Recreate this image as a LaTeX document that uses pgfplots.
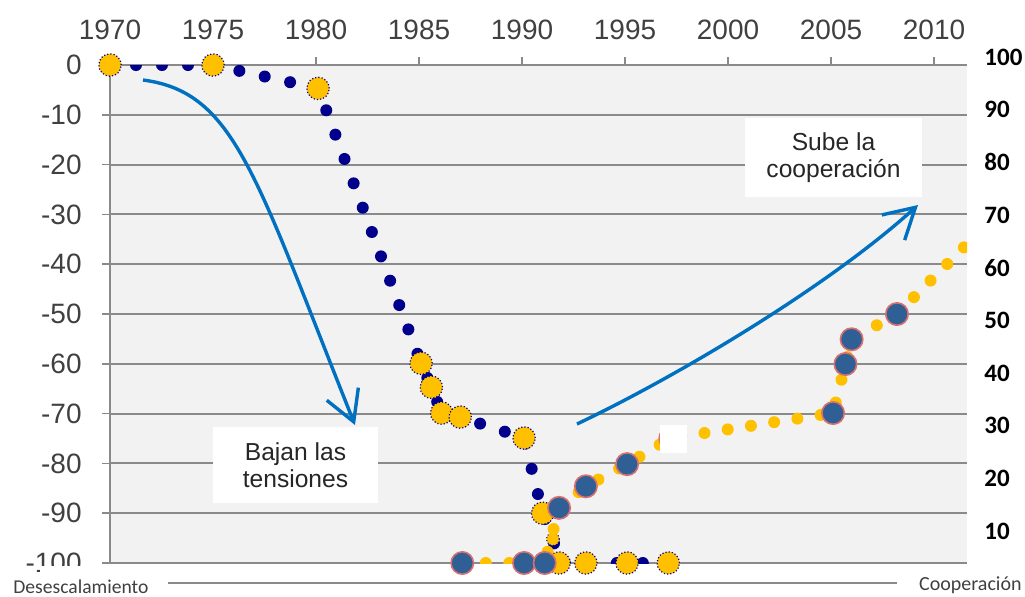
\documentclass[border=0pt]{standalone}
\usepackage{pgfplots}
\pgfplotsset{compat=1.18}
\usepackage{pgfplotstable}
\usepackage{fontspec}
\setmainfont{Liberation Sans}
\newfontfamily\carlito{Carlito}
\usetikzlibrary{arrows.meta}
\definecolor{bg}{HTML}{F2F2F2}
\definecolor{gridc}{HTML}{8A8A8A}
\definecolor{lab}{HTML}{404040}
\definecolor{navy}{HTML}{00008C}
\definecolor{gold}{HTML}{FFC000}
\definecolor{steel}{HTML}{2F5F94}
\definecolor{redo}{HTML}{D77070}
\definecolor{arr}{HTML}{0070C0}

\pgfplotstableread{
x y
1970.0 0
1975.0 0
1980.1 -4.7
1985.1 -59.9
1985.6 -64.7
1986.1 -69.9
1987.0 -70.7
1990.1 -74.9
1991.0 -90.0
1991.5 -95.2
1991.8 -100
1993.1 -100
1995.1 -100
1997.1 -100
}\desesc

\pgfplotstableread{
x y
1987.1 3.93
1990.1 3.93
1991.1 3.93
1991.8 14.4
1993.1 18.5
1995.1 22.7
1997.2 27.6
2005.1 32.4
2005.7 41.7
2006.0 46.4
2008.2 51.2
2012.0 66.0
}\coop

\begin{document}
\begin{tikzpicture}
\useasboundingbox (0,0) rectangle (512.5pt,-298pt);
\begin{axis}[
  at={(55pt,-281.5pt)}, anchor=south west,
  scale only axis, width=428.5pt, height=249pt,
  xmin=1970, xmax=2011.6, ymin=-100, ymax=0,
  axis x line*=top, axis y line*=left,
  axis line style={gridc, line width=1pt, -},
  xtick={1970,1975,...,2010}, ytick={-100,-90,...,0},
  tick align=outside, major tick length=4pt,
  tick style={gridc, line width=0.8pt},
  ymajorgrids, grid style={gridc, line width=1pt},
  axis background/.style={fill=bg},
  ticklabel style={font=\fontsize{14}{14}\selectfont, text=lab, inner sep=0pt},
  /pgf/number format/assume math mode=true,
  xticklabel style={/pgf/number format/1000 sep={}, yshift=8.5pt},
  yticklabel style={xshift=-10pt},
]
\addplot[navy, line width=6pt, line cap=round, dash pattern=on 0pt off 13pt] table{\desesc};
\addplot[only marks, mark=*, mark size=5.6pt, mark options={fill=gold, draw=navy, line width=0.6pt, densely dotted}, skip coords between index={9}{10}] table{\desesc};
\addplot[only marks, mark=*, mark size=3.2pt, mark options={fill=gold, draw=navy, line width=0.5pt, densely dotted}] coordinates {(1991.5,-95.2)};
\end{axis}
\begin{axis}[
  at={(55pt,-281.5pt)}, anchor=south west,
  scale only axis, width=428.5pt, height=249pt,
  xmin=1970, xmax=2011.6, ymin=3.93, ymax=98.48,
  hide x axis, axis y line*=right,
  y axis line style={draw=none},
  ytick={10,20,...,90}, major tick length=0pt,
  extra y ticks={98.48}, extra y tick labels={100},
  extra y tick style={yticklabel style={yshift=4pt}},
  yticklabel style={font=\carlito\bfseries\fontsize{12.5}{12.5}\selectfont, text=black, anchor=west, inner sep=0pt, xshift=8.5pt},
  /pgf/number format/assume math mode=true,
]
\addplot[gold, line width=6pt, line cap=round, dash pattern=on 0pt off 11.75pt] table{\coop};
\addplot[only marks, mark=*, mark size=5.6pt, mark options={fill=steel, draw=redo, line width=0.8pt}, skip coords between index={11}{12}] table{\coop};
\end{axis}
\begin{scope}[x=0.5pt, y=-0.5pt]
\fill[white] (660,425) rectangle (687,453);
\fill[white] (40,566) rectangle (108,596);
\draw[gridc, line width=1pt] (168,583) -- (897,583);
\node[font=\carlito\fontsize{9.8}{10}\selectfont, text=lab, anchor=west, inner sep=0pt] at (13,587) {Desescalamiento};
\node[font=\carlito\fontsize{10}{10}\selectfont, text=lab, anchor=east, inner sep=0pt] at (1022,585) {Cooperación};
\node[fill=white, minimum width=82.5pt, minimum height=38pt, align=center, inner sep=0pt, text=black!85, font=\fontsize{12.3}{13.5}\selectfont] at (295.5,465) {Bajan las\\tensiones};
\node[fill=white, minimum width=88.5pt, minimum height=39.5pt, align=center, inner sep=0pt, text=black!85, font=\fontsize{12.3}{13.5}\selectfont] at (833.5,157.5) {Sube la\\cooperación};
\draw[arr, line width=1.7pt, -{Straight Barb[length=15pt, width=17pt, line width=1.7pt]}] (143,80) .. controls (235,92) and (255,175) .. (355,425);
\draw[arr, line width=1.7pt, -{Straight Barb[length=15pt, width=17pt, line width=1.7pt]}] (577,424) .. controls (680,375) and (830,285) .. (918,205);
\end{scope}
\end{tikzpicture}
\end{document}
